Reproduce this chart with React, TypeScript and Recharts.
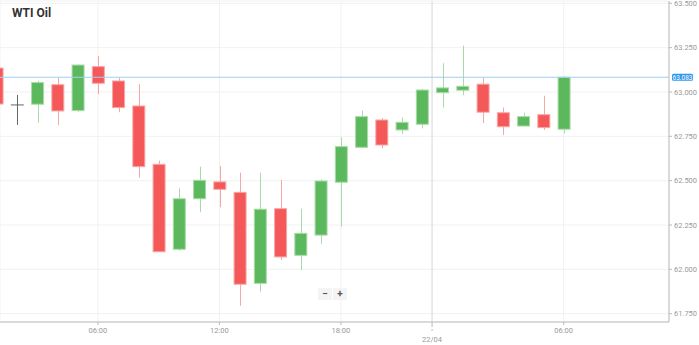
import React from "react"
import { ComposedChart, Bar, XAxis, YAxis, CartesianGrid, ReferenceLine } from "recharts"

// hourly candles, 21/04 ~00:00 .. 22/04 06:00
const opens = [63.135, 62.927, 62.931, 63.041, 62.895, 63.143, 63.062, 62.921, 62.592, 62.113, 62.398, 62.493, 62.434, 61.921, 62.342, 62.079, 62.193, 62.491, 62.688, 62.842, 62.786, 62.818, 62.996, 63.01, 63.044, 62.883, 62.808, 62.872, 62.79]
const closes = [62.932, 62.927, 63.053, 62.893, 63.152, 63.049, 62.912, 62.579, 62.099, 62.398, 62.502, 62.451, 61.916, 62.339, 62.07, 62.203, 62.498, 62.692, 62.861, 62.701, 62.829, 63.011, 63.023, 63.032, 62.886, 62.804, 62.861, 62.799, 63.083]
const highs = [63.145, 62.983, 63.064, 63.081, 63.155, 63.203, 63.081, 63.044, 62.613, 62.457, 62.579, 62.583, 62.545, 62.545, 62.504, 62.342, 62.508, 62.745, 62.895, 62.853, 62.857, 63.017, 63.162, 63.261, 63.081, 62.912, 62.883, 62.979, 63.09]
const lows = [62.92, 62.814, 62.827, 62.814, 62.887, 62.987, 62.886, 62.517, 62.098, 62.105, 62.322, 62.35, 61.795, 61.874, 62.053, 61.996, 62.143, 62.24, 62.684, 62.683, 62.763, 62.795, 62.912, 62.982, 62.824, 62.758, 62.808, 62.786, 62.767]

const xTicks = [5, 11, 17, 21.5, 28]
const xLabels = ["06:00", "12:00", "18:00", "22/04", "06:00"]
const yTicks = [61.75, 62, 62.25, 62.5, 62.75, 63, 63.25, 63.5]
const lastPrice = 63.083

const data = opens.map((o, i) => ({
  i,
  open: o,
  close: closes[i],
  high: highs[i],
  low: lows[i],
  range: [lows[i], highs[i]],
}))

const Candle = (props: any) => {
  const { x, y, width, height, payload } = props
  const { open, close, high, low } = payload
  const h = Math.abs(height)
  const top = height < 0 ? y + height : y
  const k = h / (high - low || 1)
  const cx = Math.round(x + width / 2) + 0.5
  const bodyTop = top + (high - Math.max(open, close)) * k
  const bodyH = Math.abs(open - close) * k
  if (open === close) {
    return (
      <g>
        <line x1={cx} x2={cx} y1={top} y2={top + h} stroke="#666" />
        <line x1={x} x2={x + width} y1={bodyTop} y2={bodyTop} stroke="#666" />
      </g>
    )
  }
  const up = close > open
  const fill = up ? "#5cb85c" : "#f45858"
  const light = up ? "#a9dba9" : "#f8a6a6"
  return (
    <g>
      <line x1={cx} x2={cx} y1={top} y2={top + h} stroke={light} />
      <rect x={x + 0.5} y={bodyTop} width={width - 1} height={Math.max(bodyH, 1)} fill={fill} stroke={light} strokeWidth={1} />
    </g>
  )
}

const XTick = (props: any) => {
  const { x, y, payload } = props
  const label = xLabels[xTicks.indexOf(payload.value)] ?? ""
  const isDay = label === "22/04"
  return (
    <g>
      {isDay && <line x1={x} x2={x} y1={y - 2} y2={y + 6} stroke="#bbb" strokeDasharray="2 2" />}
      <text x={x} y={isDay ? y + 15 : y + 6} textAnchor="middle" fontSize={7.5} fill="#999" fontFamily="Roboto">
        {label}
      </text>
    </g>
  )
}

const PriceLabel = (props: any) => {
  const { viewBox } = props
  const x = viewBox.x + viewBox.width + 3
  const y = viewBox.y
  return (
    <g>
      <rect x={x} y={y - 3.5} width={21} height={7} rx={1.5} fill="#2f97f0" />
      <text x={x + 10.5} y={y + 2.3} textAnchor="middle" fontSize={6.5} fill="#fff" fontFamily="Roboto">
        {lastPrice.toFixed(3)}
      </text>
    </g>
  )
}

export default function App() {
  return (
    <div style={{ position: "absolute", left: 0, top: 0, width: 699, height: 345, background: "#fff", fontFamily: "Roboto" }}>
      <ComposedChart width={699} height={345} data={data} margin={{ top: 1, right: 0, bottom: 0, left: 0 }}>
        <CartesianGrid stroke="#f1f1f1" />
        <XAxis
          dataKey="i"
          type="number"
          domain={[0.163, 33.2]}
          allowDataOverflow
          ticks={xTicks}
          tick={<XTick />}
          height={23}
          tickSize={3}
          axisLine={{ stroke: "#bbb" }}
          tickLine={{ stroke: "#bbb" }}
          interval={0}
        />
        <YAxis
          orientation="right"
          domain={[61.703, 63.513]}
          allowDataOverflow
          ticks={yTicks}
          width={30}
          tickSize={3}
          tickMargin={2}
          tickFormatter={(v: number) => v.toFixed(3)}
          tick={{ fontSize: 7.5, fill: "#999", fontFamily: "Roboto" }}
          axisLine={{ stroke: "#bbb" }}
          tickLine={{ stroke: "#bbb" }}
          interval={0}
        />
        <ReferenceLine x={21.5} stroke="#dcdcdc" />
        <ReferenceLine y={lastPrice} stroke="#9fcff5" strokeWidth={1} label={<PriceLabel />} />
        <Bar dataKey="range" barSize={13} shape={<Candle />} isAnimationActive={false} />
      </ComposedChart>
      <div style={{ position: "absolute", left: 12, top: 6, fontSize: 12, fontWeight: 700, color: "#333" }}>WTI Oil</div>
      <div style={{ position: "absolute", left: 318, top: 288, height: 12, display: "flex", gap: 1, fontSize: 10, fontWeight: 700, color: "#555", lineHeight: "12px" }}>
        <span style={{ width: 14, textAlign: "center", background: "#f4f4f4" }}>−</span>
        <span style={{ width: 14, textAlign: "center", background: "#f4f4f4" }}>+</span>
      </div>
    </div>
  )
}
